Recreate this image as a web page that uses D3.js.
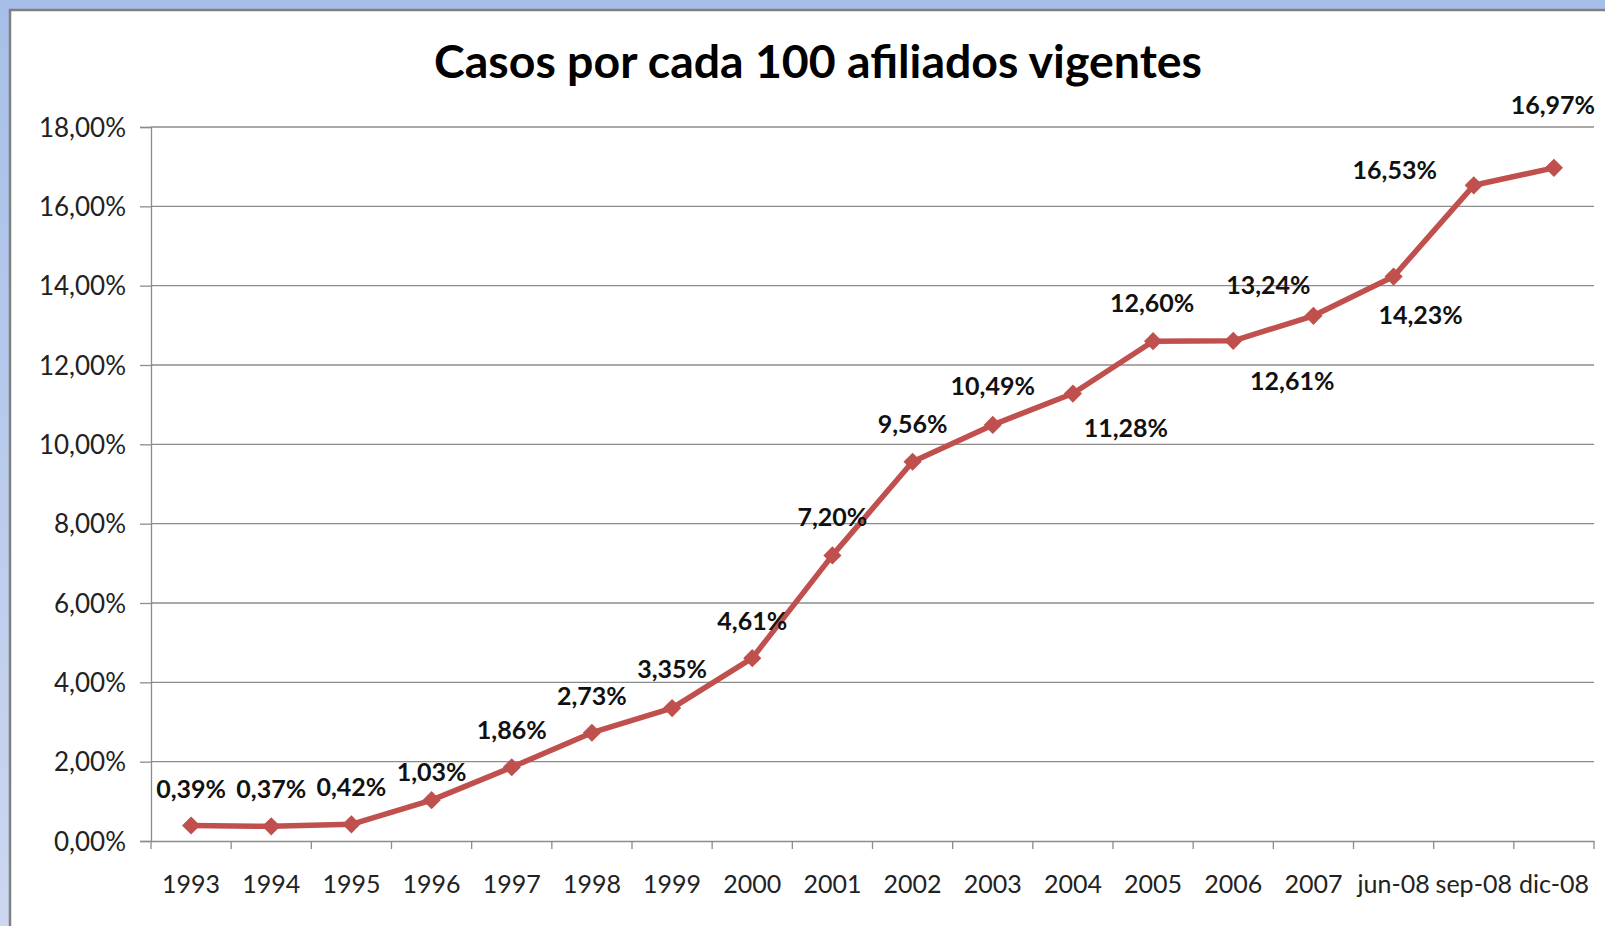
<!DOCTYPE html>
<html>
<head>
<meta charset="utf-8">
<script src="https://cdn.jsdelivr.net/npm/d3@7"></script>
<style>
  html, body { margin: 0; padding: 0; background: #ffffff; }
  svg { display: block; }
</style>
</head>
<body>
<svg id="chart" width="1605" height="926"></svg>
<script>
// ---- data ----
const categories = ["1993","1994","1995","1996","1997","1998","1999","2000","2001","2002",
                    "2003","2004","2005","2006","2007","jun-08","sep-08","dic-08"];
const values = [0.39, 0.37, 0.42, 1.03, 1.86, 2.73, 3.35, 4.61, 7.20, 9.56,
                10.49, 11.28, 12.60, 12.61, 13.24, 14.23, 16.53, 16.97];
const yTicks = [0, 2, 4, 6, 8, 10, 12, 14, 16, 18];
const titleText = "Casos por cada 100 afiliados vigentes";

// ---- layout (label placement offsets in px, relative to marker) ----
const labelOffsets = [
  [0,-37],[0,-37],[0,-37],[0,-28],[0,-37],[0,-37],[0,-39],[0,-37],[0,-38],[0,-38],
  [0,-39],[53,34],[-1,-38],[59,40],[-45,-31],[27,38],[-79,-15],[-1,-63]
];

const W = 1605, H = 926;
const plot = { left: 151, right: 1594, top: 127, bottom: 841 };
const lineColor = "#c0504d";
const gridColor = "#8c8c8c";
const font = "Lato, 'Open Sans', sans-serif";

const svg = d3.select("#chart");

// background frame
const defs = svg.append("defs");
const grad = defs.append("linearGradient").attr("id", "bg").attr("x1", 0).attr("y1", 0).attr("x2", 0).attr("y2", 1);
grad.append("stop").attr("offset", "0%").attr("stop-color", "#a7bfe8");
grad.append("stop").attr("offset", "100%").attr("stop-color", "#ccd7f0");
svg.append("rect").attr("x", 0).attr("y", 0).attr("width", W).attr("height", H).attr("fill", "url(#bg)");
svg.append("rect").attr("x", 10).attr("y", 10).attr("width", W + 20).attr("height", H + 20)
   .attr("fill", "#ffffff").attr("stroke", "#808080").attr("stroke-width", 2.5);

const locale = d3.formatLocale({ decimal: ",", thousands: ".", grouping: [3], currency: ["", "€"] });
const fmt2 = locale.format(".2f");

const x = d3.scaleBand().domain(categories).range([plot.left, plot.right]).padding(0);
const y = d3.scaleLinear().domain([0, 18]).range([plot.bottom, plot.top]);

// gridlines
svg.append("g").selectAll("line").data(yTicks.filter(d => d > 0)).join("line")
  .attr("x1", plot.left).attr("x2", plot.right)
  .attr("y1", d => y(d)).attr("y2", d => y(d))
  .attr("stroke", gridColor).attr("stroke-width", 1.3);

// y axis
const yAxis = svg.append("g").attr("transform", `translate(${plot.left},0)`)
  .call(d3.axisLeft(y).tickValues(yTicks).tickSize(11).tickPadding(14)
        .tickFormat(d => fmt2(d) + "%"));
yAxis.select(".domain").attr("stroke", gridColor).attr("stroke-width", 1.3);
yAxis.selectAll(".tick line").attr("stroke", gridColor).attr("stroke-width", 1.3);
yAxis.selectAll(".tick text")
  .attr("font-family", font).attr("font-size", 26).attr("fill", "#222")
  .attr("dy", null).attr("y", 9);

// x axis
const xAxis = svg.append("g").attr("transform", `translate(0,${plot.bottom})`)
  .call(d3.axisBottom(x).tickSize(0).tickPadding(0));
xAxis.select(".domain").attr("stroke", gridColor).attr("stroke-width", 1.3);
xAxis.selectAll(".tick text")
  .attr("font-family", font).attr("font-size", 25).attr("fill", "#222")
  .attr("dy", null).attr("y", 52);
// tick marks at category boundaries
const boundaries = categories.map(c => x(c)).concat([x(categories[categories.length - 1]) + x.bandwidth()]);
svg.append("g").selectAll("line").data(boundaries).join("line")
  .attr("x1", d => d).attr("x2", d => d)
  .attr("y1", plot.bottom).attr("y2", plot.bottom + 8)
  .attr("stroke", gridColor).attr("stroke-width", 1.3);

// series
const pts = categories.map((c, i) => ({ c, v: values[i], i }));
const cx = d => x(d.c) + x.bandwidth() / 2;
const line = d3.line().x(cx).y(d => y(d.v));
svg.append("path").datum(pts).attr("d", line)
  .attr("fill", "none").attr("stroke", lineColor).attr("stroke-width", 5.5)
  .attr("stroke-linejoin", "round");

const sym = d3.symbol().type(d3.symbolSquare).size(165);
svg.append("g").selectAll("path").data(pts).join("path")
  .attr("d", sym)
  .attr("transform", d => `translate(${cx(d)},${y(d.v)}) rotate(45)`)
  .attr("fill", lineColor);

// data labels
svg.append("g").selectAll("text").data(pts).join("text")
  .attr("x", d => cx(d) + labelOffsets[d.i][0])
  .attr("y", d => y(d.v) + labelOffsets[d.i][1] + 9)
  .attr("text-anchor", "middle")
  .attr("font-family", font).attr("font-size", 25).attr("font-weight", "bold").attr("fill", "#111")
  .text(d => fmt2(d.v) + "%");

// title
const title = svg.append("text")
  .attr("x", 818).attr("y", 78).attr("text-anchor", "middle")
  .attr("font-family", font).attr("font-size", 43).attr("font-weight", "bold").attr("fill", "#000")
  .text(titleText);
const tw = title.node().getComputedTextLength();
if (tw > 0) title.attr("font-size", 43 * 768 / tw);
</script>
</body>
</html>
